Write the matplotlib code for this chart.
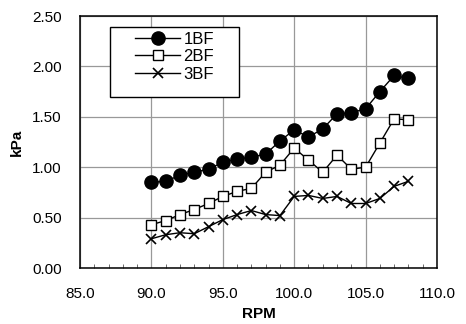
import matplotlib
matplotlib.use("Agg")
import matplotlib.pyplot as plt
from matplotlib.ticker import MultipleLocator, FormatStrFormatter
from matplotlib.patches import Rectangle

rpm = [90, 91, 92, 93, 94, 95, 96, 97, 98, 99, 100, 101, 102, 103, 104, 105, 106, 107, 108]
bf1 = [0.85, 0.86, 0.92, 0.95, 0.98, 1.05, 1.08, 1.10, 1.13, 1.26, 1.37, 1.30, 1.38, 1.53, 1.54, 1.58, 1.75, 1.91, 1.88]
bf2 = [0.43, 0.47, 0.53, 0.58, 0.64, 0.71, 0.76, 0.79, 0.95, 1.02, 1.19, 1.07, 0.95, 1.12, 0.98, 1.00, 1.24, 1.48, 1.47]
bf3 = [0.29, 0.33, 0.35, 0.34, 0.41, 0.48, 0.53, 0.57, 0.53, 0.52, 0.71, 0.72, 0.69, 0.71, 0.64, 0.64, 0.69, 0.81, 0.86]

plt.rcParams['font.family'] = ['Liberation Sans', 'DejaVu Sans']

W, H = 466, 324
fig = plt.figure(figsize=(W / 100, H / 100), dpi=100)
ax = fig.add_axes([80 / W, 1 - 268 / H, (437 - 80) / W, (268 - 16) / H])

ax.plot(rpm, bf1, color='black', lw=1.0, marker='o', ms=9.5, mfc='black', mec='black', label='1BF', zorder=3)
ax.plot(rpm, bf2, color='black', lw=1.0, marker='s', ms=7.5, mfc='white', mec='black', mew=1.0, label='2BF', zorder=3)
ax.plot(rpm, bf3, color='black', lw=1.0, marker='x', ms=7.5, mec='black', mew=1.2, label='3BF', zorder=3)

ax.set_xlim(85, 110)
ax.set_ylim(0, 2.5)
ax.xaxis.set_major_locator(MultipleLocator(5))
ax.xaxis.set_minor_locator(MultipleLocator(1))
ax.yaxis.set_major_locator(MultipleLocator(0.5))
ax.xaxis.set_major_formatter(FormatStrFormatter('%.1f'))
ax.yaxis.set_major_formatter(FormatStrFormatter('%.2f'))
ax.grid(True, which='major', color='#999999', lw=0.9)
ax.set_axisbelow(True)
ax.tick_params(which='major', direction='in', length=0, labelsize=11, colors='black')
ax.tick_params(axis='y', which='major', pad=13)
ax.tick_params(axis='x', which='major', pad=14)
ax.tick_params(axis='x', which='minor', direction='in', length=3, color='#555555')
for s in ax.spines.values():
    s.set_linewidth(1.1)
    s.set_color('black')

ax.set_xlabel('RPM', fontsize=11, fontweight='bold', labelpad=4)
ax.set_ylabel('kPa', fontsize=11, fontweight='bold', labelpad=6)

# legend frame
ax.add_patch(Rectangle((110 / W, 1 - 97 / H), 129 / W, 70 / H, transform=fig.transFigure,
                       facecolor='white', edgecolor='black', lw=1.0, zorder=5, clip_on=False))
leg = ax.legend(loc='upper left', bbox_to_anchor=(135 / W, 1 - 32 / H), bbox_transform=fig.transFigure,
                fontsize=12, frameon=False, handlelength=2.7, handletextpad=0.2,
                labelspacing=0.14, borderpad=0, borderaxespad=0)
leg.set_zorder(6)

fig.savefig('out.png', dpi=100)
